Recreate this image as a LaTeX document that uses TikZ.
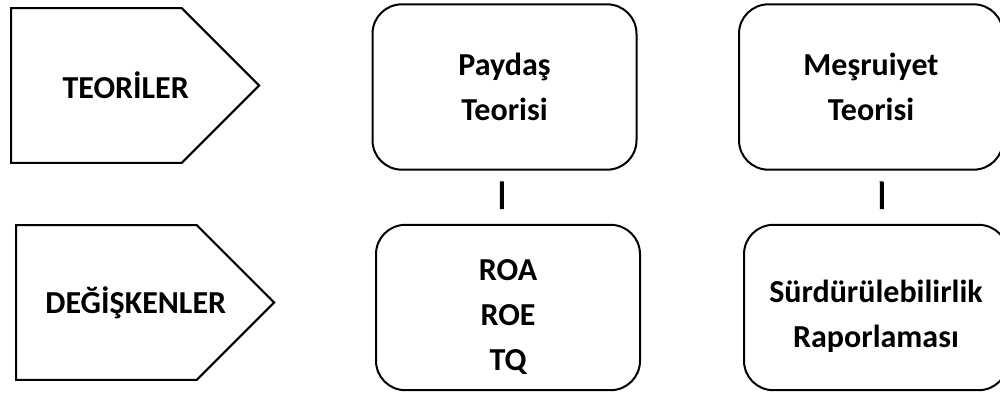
\documentclass[tikz,border=0pt]{standalone}
\usepackage{fontspec}
\setmainfont{Carlito}
\usepackage{tikz}
\usetikzlibrary{shapes.symbols, positioning, calc}
\newcommand{\labelfont}{\bfseries\fontsize{24}{34}\selectfont}
\newcommand{\lowstrut}{\rule{0pt}{30pt}}
\tikzstyle{tag} = [signal, signal to=east, signal pointer angle=90, minimum width=186pt, minimum height=116pt, inner sep=0pt, draw=black, line width=1.6pt, anchor=west, font=\labelfont, execute at begin node=\kern22pt, execute at end node=\kern-22pt]
\tikzstyle{box} = [rectangle, minimum width=198pt, minimum height=124pt, text centered, align=center, draw=black, line width=1.5pt, rounded corners=22pt, font=\labelfont]
\tikzstyle{link} = [line width=3pt, shorten <=8pt, shorten >=11pt]

\begin{document}
\begin{tikzpicture}[x=0.75pt, y=-0.75pt]
    \clip (0,0) rectangle (1000,394);
    % Theories (top)
    \node (t1) [tag] at (10, 85.5) {TEORİLER};
    \node (b1) [box] at (504.5, 87) {Paydaş\\Teorisi};
    \node (b3) [box] at (871, 87) {Meşruiyet\\Teorisi};

    % Variables (bottom)
    \node (t2) [tag] at (15, 302.5) {DEĞİŞKENLER};
    \node (b2) [box] at (508, 307.5) {\lowstrut ROA\\ROE\\TQ};
    \node (b4) [box] at (876, 307.5) {\lowstrut Sürdürülebilirlik\\Raporlaması};

    \draw [link] ([xshift=-2pt]b1.south) -- ([xshift=-4.5pt]b2.north);
    \draw [link] ([xshift=8pt]b3.south) -- ([xshift=4.5pt]b4.north);
\end{tikzpicture}
\end{document}
